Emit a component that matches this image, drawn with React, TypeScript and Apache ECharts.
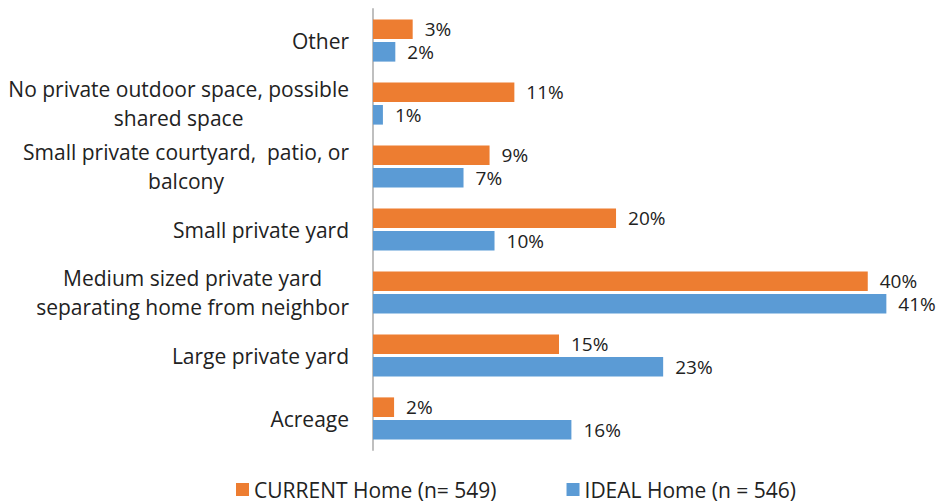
import React, { useEffect, useRef } from "react";
import * as echarts from "echarts";

const categories: string[] = [
  "Other",
  "No private outdoor space, possible\nshared space",
  "Small private courtyard,  patio, or\nbalcony",
  "Small private yard",
  "Medium sized private yard\nseparating home from neighbor",
  "Large private yard",
  "Acreage",
];

const currentHome: number[] = [3.2, 11.4, 9.4, 19.6, 39.9, 15.0, 1.7];
const idealHome: number[] = [1.8, 0.8, 7.3, 9.8, 41.4, 23.4, 16.0];

const seriesNames: string[] = ["CURRENT Home (n= 549)", "IDEAL Home (n = 546)"];
const seriesColors: string[] = ["#ED7D31", "#5B9BD5"];

const FONT = "'Open Sans', sans-serif";
const TEXT = "#222222";

export default function App() {
  const ref = useRef<HTMLDivElement>(null);

  useEffect(() => {
    document.body.style.margin = "0";
    if (!ref.current) return;
    const chart = echarts.init(ref.current, undefined, { renderer: "svg" });
    const label = {
      show: true,
      position: "right" as const,
      distance: 12,
      color: TEXT,
      fontFamily: FONT,
      fontSize: 19,
      formatter: (p: any) => Math.round(p.value) + "%",
    };
    chart.setOption({
      animation: false,
      textStyle: { fontFamily: FONT },
      grid: { left: 373, right: 9, top: 9, bottom: 54, containLabel: false },
      legend: {
        data: seriesNames,
        left: 231,
        top: 474,
        itemWidth: 13,
        itemHeight: 13,
        itemGap: 70,
        icon: "rect",
        textStyle: { color: TEXT, fontFamily: FONT, fontSize: 21 },
      },
      xAxis: {
        type: "value",
        min: 0,
        max: 45,
        show: false,
      },
      yAxis: {
        type: "category",
        data: categories,
        inverse: true,
        axisTick: { show: false },
        axisLine: { show: true, lineStyle: { color: "#BFBFBF", width: 2 } },
        axisLabel: {
          margin: 24,
          color: TEXT,
          fontFamily: FONT,
          fontSize: 21,
          lineHeight: 29,
          align: "right",
          formatter: (v: string) =>
            v
              .split("\n")
              .map((s) => "{c|" + s + "}")
              .join("\n"),
          rich: {
            c: {
              align: "center",
              color: TEXT,
              fontFamily: FONT,
              fontSize: 21,
              lineHeight: 29,
            },
          },
        },
      },
      series: [
        {
          name: seriesNames[0],
          type: "bar",
          data: currentHome,
          itemStyle: { color: seriesColors[0] },
          barCategoryGap: "33%",
          barGap: "15%",
          label,
        },
        {
          name: seriesNames[1],
          type: "bar",
          data: idealHome,
          itemStyle: { color: seriesColors[1] },
          barCategoryGap: "33%",
          barGap: "15%",
          label,
        },
      ],
    });
    return () => chart.dispose();
  }, []);

  return <div ref={ref} style={{ width: 940, height: 504 }} />;
}
